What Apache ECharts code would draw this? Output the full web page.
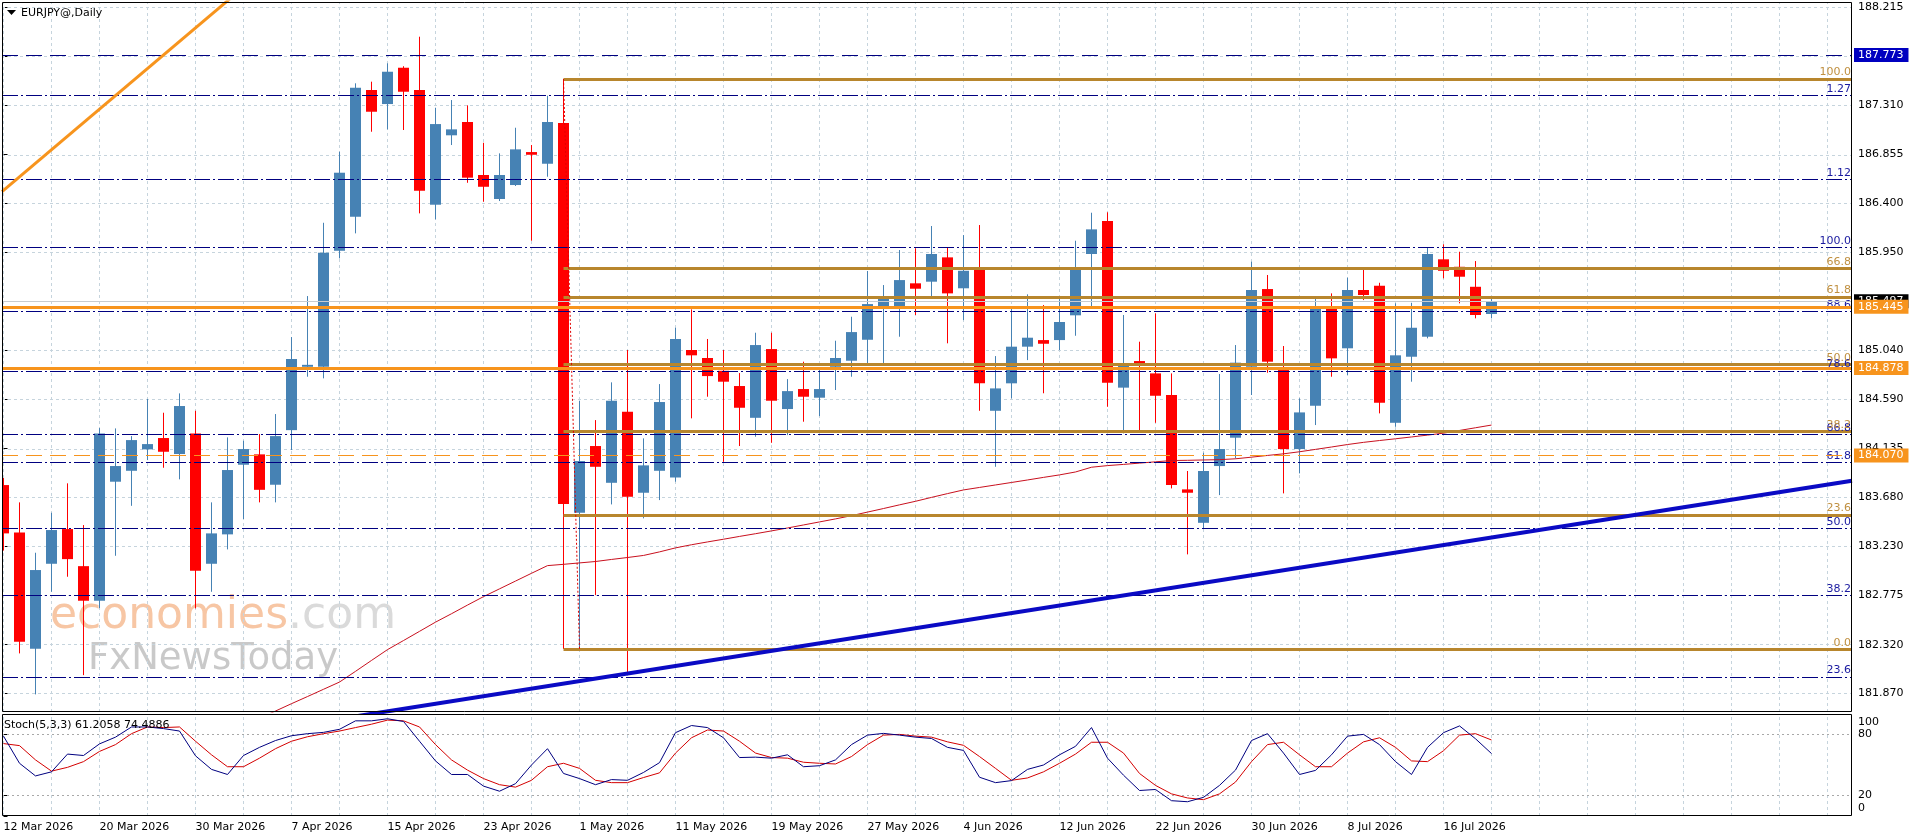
<!DOCTYPE html>
<html>
<head>
<meta charset="utf-8">
<title>EURJPY@,Daily</title>
<script src="https://cdn.jsdelivr.net/npm/echarts@6/dist/echarts.min.js"></script>
<style>
html, body { margin: 0; padding: 0; background: #fff; }
#chart { width: 1916px; height: 840px; }
</style>
</head>
<body>
<div id="chart"></div>
<script>
// daily candles, one per weekday from 12 Mar 2026
var opens = [183.796,183.358,182.282,183.068,183.389,183.046,182.726,183.827,183.928,184.126,
    184.231,184.083,184.274,183.068,183.340,183.984,184.080,183.799,184.304,184.890,
    184.890,185.963,186.278,187.450,187.320,187.656,187.450,186.389,187.031,187.154,
    186.664,186.442,186.571,186.876,186.768,187.145,183.540,184.157,183.817,184.474,
    183.725,183.928,183.867,185.045,184.971,184.853,184.712,184.418,185.054,184.499,
    184.684,184.604,184.890,184.946,185.140,185.452,185.452,185.662,185.677,185.902,
    185.616,185.791,184.483,184.737,185.076,185.137,185.137,185.366,185.933,186.238,
    184.697,184.943,184.829,184.629,183.756,183.447,183.972,184.234,184.890,185.609,
    184.860,184.129,184.529,185.430,185.061,185.600,185.640,184.372,184.983,185.168,
    185.884,185.815,185.630,185.378];
var highs = [183.861,183.636,183.170,183.540,183.812,183.426,184.323,184.320,184.249,184.592,
    184.465,184.644,184.483,183.636,184.237,184.206,184.268,184.453,185.165,185.544,
    186.222,186.879,187.512,187.527,187.697,187.670,187.943,187.286,187.357,187.308,
    186.962,186.864,187.101,186.941,187.397,187.552,184.576,184.397,184.746,185.045,
    184.228,184.730,185.251,185.421,185.147,185.045,184.832,185.205,185.205,184.776,
    184.937,184.860,185.131,185.353,185.776,185.646,185.970,185.986,186.192,185.995,
    186.108,186.201,184.989,185.452,185.560,185.461,185.517,186.056,186.315,186.319,
    185.369,185.122,185.384,184.829,183.926,184.095,184.823,185.091,185.862,185.739,
    185.082,184.598,185.517,185.569,185.714,185.791,185.667,185.477,185.482,185.995,
    186.023,185.954,185.868,185.523];
var lows = [183.190,182.239,181.860,182.809,182.948,182.038,182.658,183.142,183.604,184.027,
    183.956,183.849,182.655,182.809,183.201,183.482,183.636,183.636,184.120,184.798,
    184.783,185.893,186.124,187.064,187.086,187.080,186.309,186.254,186.941,186.592,
    186.417,186.423,186.562,186.056,186.648,182.280,182.276,182.778,183.617,182.038,
    183.488,183.657,183.827,184.413,184.613,184.011,184.157,184.243,184.187,184.258,
    184.382,184.434,184.675,184.798,184.906,184.906,185.168,185.369,185.538,185.107,
    185.322,184.483,183.965,184.598,184.952,184.645,185.045,185.177,185.452,184.520,
    184.274,184.305,184.372,183.765,183.155,183.395,183.703,184.043,184.629,184.835,
    183.719,183.904,184.351,184.798,184.814,185.507,184.459,184.335,184.752,185.153,
    185.708,185.477,185.338,185.338];
var closes = [183.349,182.346,183.010,183.380,183.111,182.726,184.274,183.972,184.212,184.175,
    184.104,184.527,183.003,183.349,183.935,184.129,183.752,184.249,184.962,184.908,
    185.945,186.685,187.471,187.249,187.619,187.434,186.518,187.135,187.086,186.639,
    186.555,186.664,186.901,186.851,187.154,183.620,184.018,183.965,184.576,183.688,
    183.978,184.564,185.147,184.996,184.804,184.752,184.511,185.091,184.576,184.665,
    184.613,184.684,184.971,185.211,185.470,185.538,185.692,185.612,185.933,185.569,
    185.778,184.737,184.690,185.076,185.159,185.103,185.304,185.791,186.161,184.742,
    184.915,184.922,184.622,183.796,183.725,183.926,184.129,184.928,185.600,184.937,
    184.129,184.468,185.430,184.968,185.600,185.554,184.557,184.996,185.251,185.933,
    185.778,185.723,185.369,185.497];

// moving average (red thin line), starts below the visible range
var maValues = [null,null,null,null,null,null,null,null,null,null,null,null,null,null,null,
    181.573,181.640,181.706,181.774,181.840,181.907,181.974,182.073,182.174,182.274,
    182.358,182.443,182.528,182.606,182.686,182.764,182.836,182.908,182.980,183.051,
    183.063,183.076,183.089,183.108,183.126,183.145,183.178,183.215,183.244,183.270,
    183.295,183.321,183.346,183.372,183.399,183.427,183.455,183.483,183.513,183.546,
    183.579,183.613,183.646,183.682,183.717,183.751,183.774,183.797,183.820,183.843,
    183.867,183.890,183.917,183.961,183.976,183.987,183.999,184.011,184.023,184.025,
    184.028,184.031,184.039,184.054,184.070,184.085,184.104,184.126,184.148,184.171,
    184.191,184.208,184.224,184.241,184.258,184.276,184.301,184.326,184.351];

// Stoch(5,3,3)
var stochK = [78.3,51.7,39.3,43.3,60.7,59.3,70.7,77.3,87.3,87.3,
    85.7,83.3,59.0,45.7,40.7,59.3,67.3,74.0,78.7,80.7,
    82.0,85.0,93.3,93.3,95.3,92.7,73.3,54.0,40.7,40.7,
    29.3,24.3,31.7,50.0,66.0,41.7,36.7,30.7,35.7,35.0,
    42.7,52.3,81.7,88.7,86.7,76.7,57.3,57.7,56.7,60.0,
    48.3,49.3,55.0,70.0,79.3,81.0,79.3,77.3,76.0,67.3,
    64.3,38.0,32.7,34.7,45.7,50.0,60.0,68.3,86.7,56.7,
    40.0,25.0,26.0,15.0,14.0,18.3,30.0,45.0,74.0,80.7,
    61.7,40.7,44.7,60.0,78.3,80.0,70.0,53.3,40.7,67.3,
    81.7,88.3,75.7,61.2];
var stochD = [71.0,69.0,55.0,44.0,47.7,53.3,63.3,70.0,80.7,87.3,
    86.7,87.3,73.3,60.0,48.3,48.3,56.7,66.0,73.3,77.7,
    80.7,83.3,86.7,90.0,94.0,93.3,87.3,70.0,55.0,45.0,
    36.7,30.7,28.3,35.0,48.3,51.7,46.7,35.0,32.7,32.7,
    37.7,42.3,61.7,76.7,84.3,83.3,73.3,61.7,57.3,56.7,
    52.7,51.7,51.0,58.3,70.0,79.3,80.0,78.3,77.3,72.7,
    69.3,58.3,46.7,35.0,37.3,43.3,51.7,60.7,72.3,72.3,
    61.7,41.7,30.0,21.7,17.7,16.0,21.7,33.3,53.3,70.0,
    72.3,60.0,48.3,48.3,61.7,72.7,76.7,67.3,54.0,53.3,
    64.0,79.3,80.7,74.5];

// axes
var priceTicks = [181.870,182.320,182.775,183.230,183.680,184.135,184.590,185.040,185.495,
    185.950,186.400,186.855,187.310,187.765,188.215];
var dateBars = [0,6,12,18,24,30,36,42,48,54,60,66,72,78,84,90];
var dateLabels = ['12 Mar 2026','20 Mar 2026','30 Mar 2026','7 Apr 2026','15 Apr 2026',
    '23 Apr 2026','1 May 2026','11 May 2026','19 May 2026','27 May 2026','4 Jun 2026',
    '12 Jun 2026','22 Jun 2026','30 Jun 2026','8 Jul 2026','16 Jul 2026'];
var stochTicks = [0,20,80,100];

// drawn objects
var blueFibPrices = [187.397,186.624,185.995,185.403,184.853,184.265,184.006,183.395,182.776,182.020];
var blueFibTexts = ['1.27','1.12','100.0','88.6','78.6','66.8','61.8','50.0','38.2','23.6'];
var goldFibStart = 35;
var goldFibPrices = [187.552,185.800,185.537,184.914,184.291,183.521,182.276];
var goldFibTexts = ['100.0','66.8','61.8','50.0','38.2','23.6','0.0'];
var fibTrend = [[35,187.552],[36,182.276]];
var resistance = 187.773;
var orangeLevels = [185.445,184.878];
var orangeDashed = 184.070;
var bidPrice = 185.497;
var blueTrend = [[20,181.61],[115.53,183.836]];
var orangeTrend = [[-0.094,186.51],[15,188.40]];

var FONT = 'DejaVu Sans';
var XMIN = -0.094, XMAX = 115.53;
var YMIN = 181.697, YMAX = 188.264;
var BULL = '#4682b4', BEAR = '#ff0000';
var NAVY = '#000080', GOLD = '#b8862d', ORANGE = '#f7941d';

var candleData = opens.map(function (o, i) {
    return [i, o, closes[i], lows[i], highs[i]];
});

function pairs(arr) {
    return arr.map(function (v, i) { return [i, v]; });
}

// horizontal line from x0 to the right edge
function flatLine(v, x0, lineStyle, label) {
    return [{ coord: [x0, v], lineStyle: lineStyle, label: label || { show: false } },
            { coord: [XMAX, v] }];
}

function fibLabel(text, color) {
    return { show: true, position: 'insideEndTop', formatter: text, color: color,
             fontFamily: FONT, fontSize: 11, distance: 1 };
}

function boxLabel(text, bg) {
    return { show: true, position: 'end', formatter: text, color: '#fff', backgroundColor: bg,
             fontFamily: FONT, fontSize: 11, padding: [2, 5, 1, 4], distance: 2 };
}

// invisible series that only carries mark lines
function host(gridIdx, z, lines, yDummy) {
    return {
        type: 'line', xAxisIndex: gridIdx, yAxisIndex: gridIdx, silent: true,
        data: [[XMIN, yDummy]], symbol: 'none', lineStyle: { opacity: 0 },
        markLine: { silent: true, symbol: ['none', 'none'], z: z, label: { show: false },
                    data: lines }
    };
}

var gridStyle = { color: '#c6d4dd', type: [3, 3], width: 1 };
var vGrid = [];
for (var g = 0; g <= 114; g += 3) vGrid.push({ xAxis: g, lineStyle: gridStyle });

var mainGrid = vGrid.concat(priceTicks.map(function (v) {
    return { yAxis: v, lineStyle: gridStyle };
}));
var stochGrid = vGrid.concat([20, 80].map(function (v) {
    return { yAxis: v, lineStyle: { color: '#a8a8a8', type: [2, 3], width: 1 } };
}));

var blueFibLines = blueFibPrices.map(function (v, i) {
    return flatLine(v, XMIN, { color: NAVY, width: 1, type: [16, 3, 2, 3] },
                    fibLabel(blueFibTexts[i], '#1a1aa0'));
});
var goldFibLines = goldFibPrices.map(function (v, i) {
    return flatLine(v, goldFibStart, { color: GOLD, width: 3, type: 'solid' },
                    fibLabel(goldFibTexts[i], '#c09040'));
});

var levelLines = [flatLine(resistance, XMIN, { color: NAVY, width: 1, type: [16, 8] },
                           boxLabel(resistance.toFixed(3), '#0000c0'))];
orangeLevels.forEach(function (v) {
    levelLines.push(flatLine(v, XMIN, { color: ORANGE, width: 3, type: 'solid' },
                             boxLabel(v.toFixed(3), ORANGE)));
});
levelLines.push(flatLine(orangeDashed, XMIN, { color: ORANGE, width: 1, type: [16, 8] },
                         boxLabel(orangeDashed.toFixed(3), ORANGE)));

var bidLine = [flatLine(bidPrice, XMIN, { color: '#c8ccd0', width: 1, type: 'solid' },
                        boxLabel(bidPrice.toFixed(3), '#000'))];

function renderCandle(params, api) {
    var k = api.value(0), o = api.value(1), c = api.value(2), l = api.value(3), h = api.value(4);
    var pO = api.coord([k, o]), pC = api.coord([k, c]);
    var pL = api.coord([k, l]), pH = api.coord([k, h]);
    var w = Math.round(api.size([1, 0])[0] * 0.69);
    var color = c >= o ? BULL : BEAR;
    var x = Math.floor(pO[0]) + 0.5;
    var top = Math.min(pO[1], pC[1]);
    var bh = Math.max(Math.abs(pO[1] - pC[1]), 1);
    return {
        type: 'group',
        children: [
            { type: 'line', shape: { x1: x, y1: pH[1], x2: x, y2: pL[1] },
              style: { stroke: color, lineWidth: 1 } },
            { type: 'rect', shape: { x: x - w / 2, y: top, width: w, height: bh },
              style: { fill: color } }
        ]
    };
}

var chart = echarts.init(document.getElementById('chart'));

var option = {
    backgroundColor: '#fff',
    animation: false,
    grid: [
        { left: 2, top: 2, width: 1850, height: 710 },
        { left: 2, top: 714, width: 1850, height: 102 }
    ],
    xAxis: [
        { gridIndex: 0, type: 'value', min: XMIN, max: XMAX,
          axisLine: { show: false }, axisTick: { show: false }, axisLabel: { show: false },
          splitLine: { show: false } },
        { gridIndex: 1, type: 'value', min: XMIN, max: XMAX,
          axisLine: { show: false }, axisTick: { show: false }, splitLine: { show: false },
          axisLabel: { customValues: dateBars, align: 'left', margin: 6, color: '#000',
                       fontFamily: FONT, fontSize: 11,
                       formatter: function (v) { return dateLabels[Math.round(v / 6)] || ''; } } }
    ],
    yAxis: [
        { gridIndex: 0, type: 'value', position: 'right', min: YMIN, max: YMAX,
          axisLine: { show: false }, splitLine: { show: false },
          axisTick: { show: true, customValues: priceTicks, length: 4, lineStyle: { color: '#000' } },
          axisLabel: { customValues: priceTicks, margin: 6, color: '#000', fontFamily: FONT,
                       fontSize: 11, formatter: function (v) { return v.toFixed(3); } } },
        { gridIndex: 1, type: 'value', position: 'right', min: 0, max: 100,
          axisLine: { show: false }, splitLine: { show: false },
          axisTick: { show: true, customValues: stochTicks, length: 4, lineStyle: { color: '#000' } },
          axisLabel: { customValues: stochTicks, margin: 6, color: '#000', fontFamily: FONT, fontSize: 11,
                       formatter: function (v) {
                           if (v === 100) return '{top|100}';
                           if (v === 0) return '{bot|0}';
                           return String(v);
                       },
                       rich: { top: { padding: [17, 0, 0, 0], fontFamily: FONT, fontSize: 11 },
                               bot: { padding: [0, 0, 16, 0], fontFamily: FONT, fontSize: 11 } } } }
    ],
    graphic: [
        { type: 'text', x: 50, y: 617, z: 0, silent: true,
          style: { text: '{a|economies}{b|.com}', verticalAlign: 'middle',
                   rich: { a: { fill: '#f7c6a4', font: '44px DejaVu Sans' },
                           b: { fill: '#dadada', font: '44px DejaVu Sans' } } } },
        { type: 'text', x: 88, y: 659, z: 0, silent: true,
          style: { text: 'FxNewsToday', fill: '#c9c9c9', font: '37px DejaVu Sans',
                   verticalAlign: 'middle' } },
        // panel frames on whole pixels
        { type: 'rect', z: 100, silent: true, shape: { x: 2.5, y: 2.5, width: 1849, height: 709 },
          style: { fill: null, stroke: '#000', lineWidth: 1 } },
        { type: 'rect', z: 100, silent: true, shape: { x: 2.5, y: 714.5, width: 1849, height: 101 },
          style: { fill: null, stroke: '#000', lineWidth: 1 } },
        { type: 'polygon', z: 100, shape: { points: [[7, 10], [16, 10], [11.5, 15]] },
          style: { fill: '#000' } },
        { type: 'text', x: 21, y: 13, z: 100,
          style: { text: 'EURJPY@,Daily', fill: '#000', font: '11px DejaVu Sans', verticalAlign: 'middle' } },
        { type: 'text', x: 4, y: 725, z: 100,
          style: { text: 'Stoch(5,3,3) 61.2058 74.4886', fill: '#000', font: '11px DejaVu Sans',
                   verticalAlign: 'middle' } }
    ],
    series: [
        host(0, 1, mainGrid, YMIN - 10),
        host(1, 1, stochGrid, -100),
        { type: 'custom', xAxisIndex: 0, yAxisIndex: 0, z: 2, clip: true,
          data: candleData, encode: { x: 0, y: [1, 2, 3, 4] }, renderItem: renderCandle },
        { type: 'line', xAxisIndex: 0, yAxisIndex: 0, z: 3, data: pairs(maValues),
          showSymbol: false, symbol: 'none', clip: true, lineStyle: { color: '#c8101e', width: 1 } },
        host(0, 6, blueFibLines, YMIN - 10),
        host(0, 6, goldFibLines, YMIN - 10),
        { type: 'line', xAxisIndex: 0, yAxisIndex: 0, z: 6, data: fibTrend, symbol: 'none',
          lineStyle: { color: '#e00000', width: 1, type: [2, 2] } },
        host(0, 7, bidLine, YMIN - 10),
        host(0, 8, levelLines, YMIN - 10),
        { type: 'line', xAxisIndex: 0, yAxisIndex: 0, z: 9, data: blueTrend, symbol: 'none', clip: true,
          lineStyle: { color: '#0a0ac4', width: 4 } },
        { type: 'line', xAxisIndex: 0, yAxisIndex: 0, z: 9, data: orangeTrend, symbol: 'none', clip: true,
          lineStyle: { color: ORANGE, width: 3 } },
        { type: 'line', xAxisIndex: 1, yAxisIndex: 1, z: 4, data: pairs(stochD), symbol: 'none',
          lineStyle: { color: '#d40000', width: 1 } },
        { type: 'line', xAxisIndex: 1, yAxisIndex: 1, z: 5, data: pairs(stochK), symbol: 'none',
          lineStyle: { color: NAVY, width: 1 } }
    ]
};

chart.setOption(option);
</script>
</body>
</html>
